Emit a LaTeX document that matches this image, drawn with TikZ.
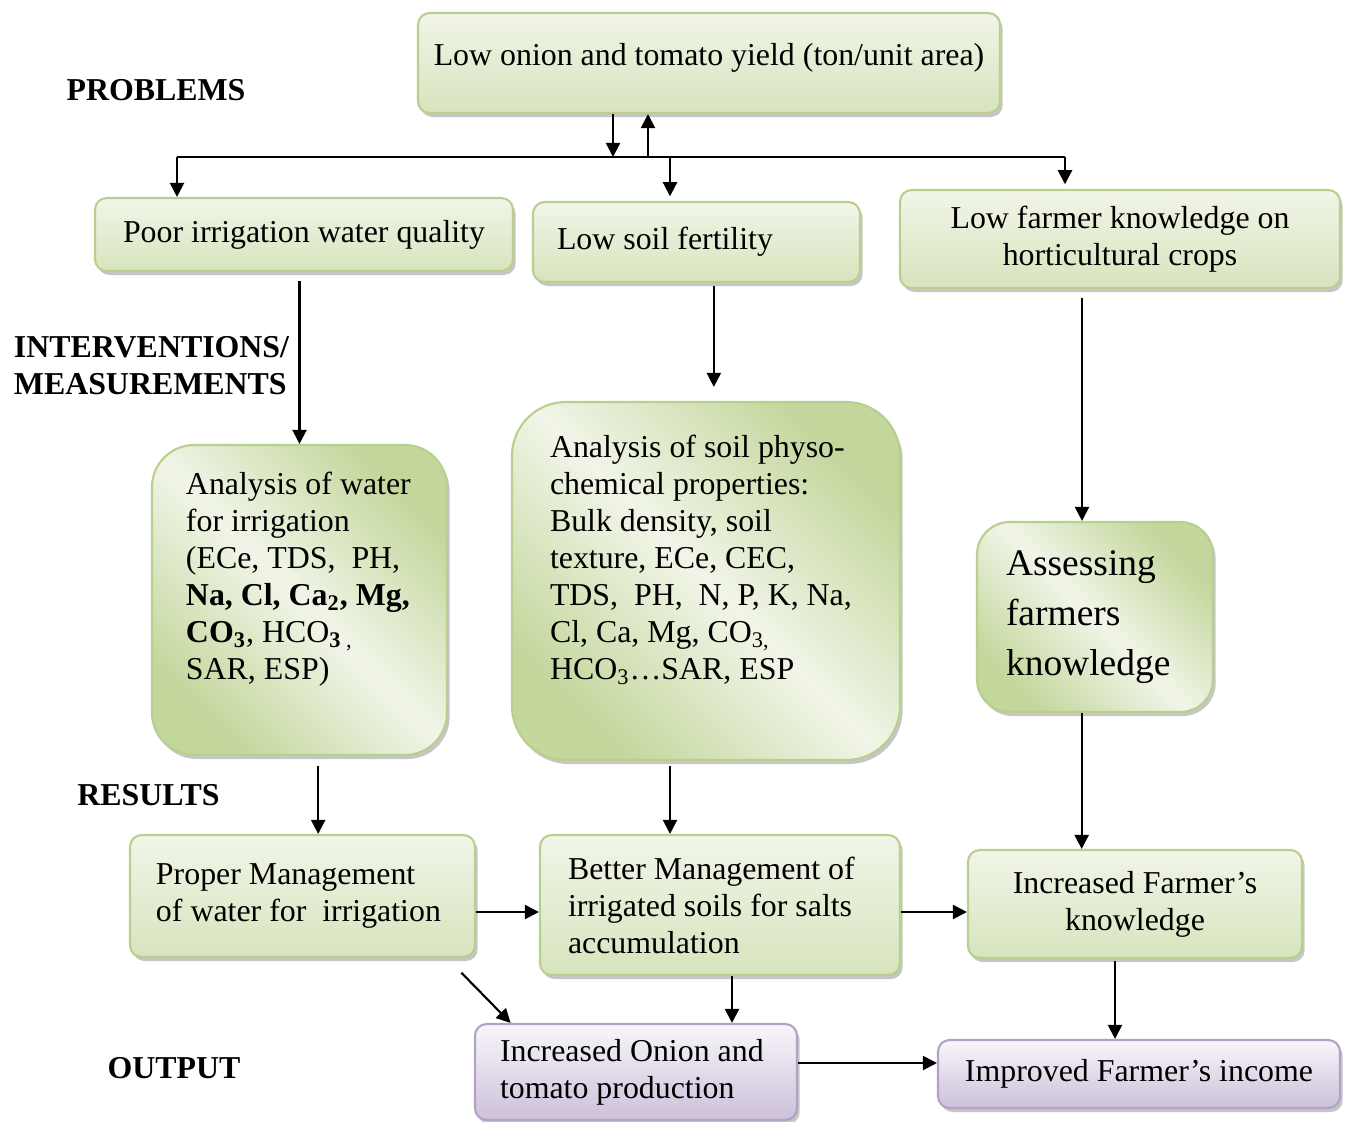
\documentclass[tikz,border=0pt]{standalone}
\usepackage{fontspec}
\setmainfont{Liberation Serif}
\usepackage{xcolor}
\usepackage{tikz}
\usetikzlibrary{
  positioning,
  arrows.meta,
  shadows,
  calc
}

\definecolor{gLight}{HTML}{F1F5E8}
\definecolor{gMid}{HTML}{D7E4BD}
\definecolor{gDark}{HTML}{C3D69B}
\definecolor{gLine}{HTML}{B9CF8F}
\definecolor{pLight}{HTML}{F8F6FA}
\definecolor{pDark}{HTML}{CCC1DA}
\definecolor{pLine}{HTML}{B3A2C7}

\newcommand{\basefont}{\fontsize{13.6}{15.8}\selectfont}

\begin{document}
\begin{tikzpicture}[
  x=0.015cm,
  y=-0.015cm,
  font=\basefont,
  box/.style={
    rectangle,
    rounded corners=5pt,
    draw=gLine,
    line width=0.9pt,
    top color=gLight,
    bottom color=gMid,
    drop shadow={shadow xshift=0.04cm, shadow yshift=-0.06cm, fill=black!50, opacity=0.45},
    inner sep=0pt,
    align=center
  },
  bigbox/.style={
    box,
    rounded corners=#1,
    top color=gDark,
    bottom color=gDark,
    middle color=gLight,
    shading angle=-45,
    align=flush left
  },
  pbox/.style={
    box,
    draw=pLine,
    top color=pLight,
    bottom color=pDark
  },
  tag/.style={
    font=\basefont\bfseries,
    inner sep=0pt,
    align=left
  },
  line/.style={line width=0.9pt},
  arrow/.style={
    -{Triangle[length=6pt,width=6pt]},
    line width=0.9pt
  }
]
\useasboundingbox (0,0) rectangle (1346,1122);

% Row labels
\node[tag] (lblProb) at (156,90) {PROBLEMS};
\node[tag] (lblInt) at (151.5,365.5) {INTERVENTIONS/\\MEASUREMENTS};
\node[tag] (lblRes) at (148.5,795) {RESULTS};
\node[tag] (lblOut) at (174,1068) {OUTPUT};

% Problems
\node[box, minimum width=8.73cm, minimum height=1.5cm] (yield) at (709,63) {Low onion and tomato yield (ton/unit area)\\[-13pt]\strut};
\node[box, minimum width=6.27cm, minimum height=1.095cm] (water) at (304,234.5) {Poor irrigation water quality};
\node[box, minimum width=4.905cm, minimum height=1.2cm, text width=4.185cm, align=flush left] (soil) at (696.5,242) {Low soil fertility};
\node[box, minimum width=6.6cm, minimum height=1.47cm] (farmer) at (1120,239) {Low farmer knowledge on\\horticultural crops};

% Interventions / measurements
\node[bigbox=18pt, minimum width=4.425cm, minimum height=4.65cm, text width=3.405cm] (waterAn) at (299.5,600) {Analysis of water\\for irrigation\\(ECe, TDS, \ PH,\\\textbf{Na, Cl, Ca\textsubscript{2}, Mg,}\\\textbf{CO\textsubscript{3}}, HCO\textsubscript{\textbf{3} ,}\\SAR, ESP)\\\strut};
\node[bigbox=23pt, minimum width=5.82cm, minimum height=5.37cm, text width=4.68cm] (soilAn) at (706,581) {Analysis of soil physo-\\chemical properties:\\Bulk density, soil\\texture, ECe, CEC,\\TDS, \ PH, \ N, P, K, Na,\\Cl, Ca, Mg, CO\textsubscript{3,}\\HCO\textsubscript{3}\ldots SAR, ESP\\\strut};
\node[bigbox=14pt, minimum width=3.54cm, minimum height=2.85cm, text width=2.67cm, font=\fontsize{16}{21.3}\selectfont] (assess) at (1095,617) {Assessing\\farmers\\knowledge};

% Results
\node[box, minimum width=5.175cm, minimum height=1.83cm, text width=4.395cm, align=flush left] (waterMg) at (302.5,896) {Proper Management\\of water for \ irrigation};
\node[box, minimum width=5.4cm, minimum height=2.1cm, text width=4.56cm, align=flush left] (soilMg) at (720,905) {Better Management of\\irrigated soils for salts\\accumulation};
\node[box, minimum width=5.01cm, minimum height=1.62cm] (know) at (1135,904) {Increased Farmer’s\\knowledge};

% Output
\node[pbox, minimum width=4.83cm, minimum height=1.44cm, text width=4.08cm, align=flush left] (prod) at (636,1072) {Increased Onion and\\tomato production};
\node[pbox, minimum width=6.03cm, minimum height=1.02cm] (income) at (1139,1074) {Improved Farmer’s income};

% Distribution line
\coordinate (busL) at (177,157);
\coordinate (busM) at (670,157);
\coordinate (busR) at (1065,157);
\coordinate (busDown) at (613,157);
\coordinate (busUp) at (648,157);

\draw[line] (busL) -- (busR);
\draw[arrow] (yield.south -| busDown) -- (busDown);
\draw[arrow] (busUp) -- (yield.south -| busUp);
\draw[arrow] (busL) -- (busL |- water.north);
\draw[arrow] (busM) -- ([yshift=0.07cm]busM |- soil.north);
\draw[arrow] (busR) -- ([yshift=0.07cm]busR |- farmer.north);

% Problems to interventions
\draw[arrow] ([yshift=-0.13cm]water.south -| waterAn.north) -- (waterAn.north);
\draw[arrow] ([xshift=0.26cm,yshift=-0.05cm]soil.south) -- ([xshift=0.26cm,yshift=0.21cm]soil.south |- soilAn.north);
\draw[arrow] ([xshift=-0.57cm,yshift=-0.13cm]farmer.south) -- ([xshift=-0.57cm]farmer.south |- assess.north);

% Interventions to results
\draw[arrow] ([xshift=0.28cm,yshift=-0.15cm]waterAn.south) -- ([xshift=0.28cm]waterAn.south |- waterMg.north);
\draw[arrow] ([xshift=-0.54cm,yshift=-0.08cm]soilAn.south) -- ([xshift=-0.54cm]soilAn.south |- soilMg.north);
\draw[arrow] ([xshift=-0.2cm]assess.south) -- ([xshift=-0.2cm]assess.south |- know.north);

% Between results
\draw[arrow] ([yshift=-0.24cm]waterMg.east) -- ([yshift=-0.24cm]waterMg.east -| soilMg.west);
\draw[arrow] ([yshift=-0.105cm]soilMg.east) -- ([yshift=-0.105cm]soilMg.east -| know.west);

% Results to output
\draw[arrow] ([xshift=-0.22cm,yshift=-0.22cm]waterMg.south east) -- ([xshift=0.55cm]prod.north west);
\draw[arrow] ([xshift=0.18cm]soilMg.south) -- ([xshift=0.18cm]soilMg.south |- prod.north);
\draw[arrow] ([xshift=-0.3cm,yshift=-0.03cm]know.south) -- ([xshift=-0.3cm]know.south |- income.north);
\draw[arrow] ([yshift=0.135cm]prod.east) -- ([yshift=0.135cm]prod.east -| income.west);

\end{tikzpicture}
\end{document}
